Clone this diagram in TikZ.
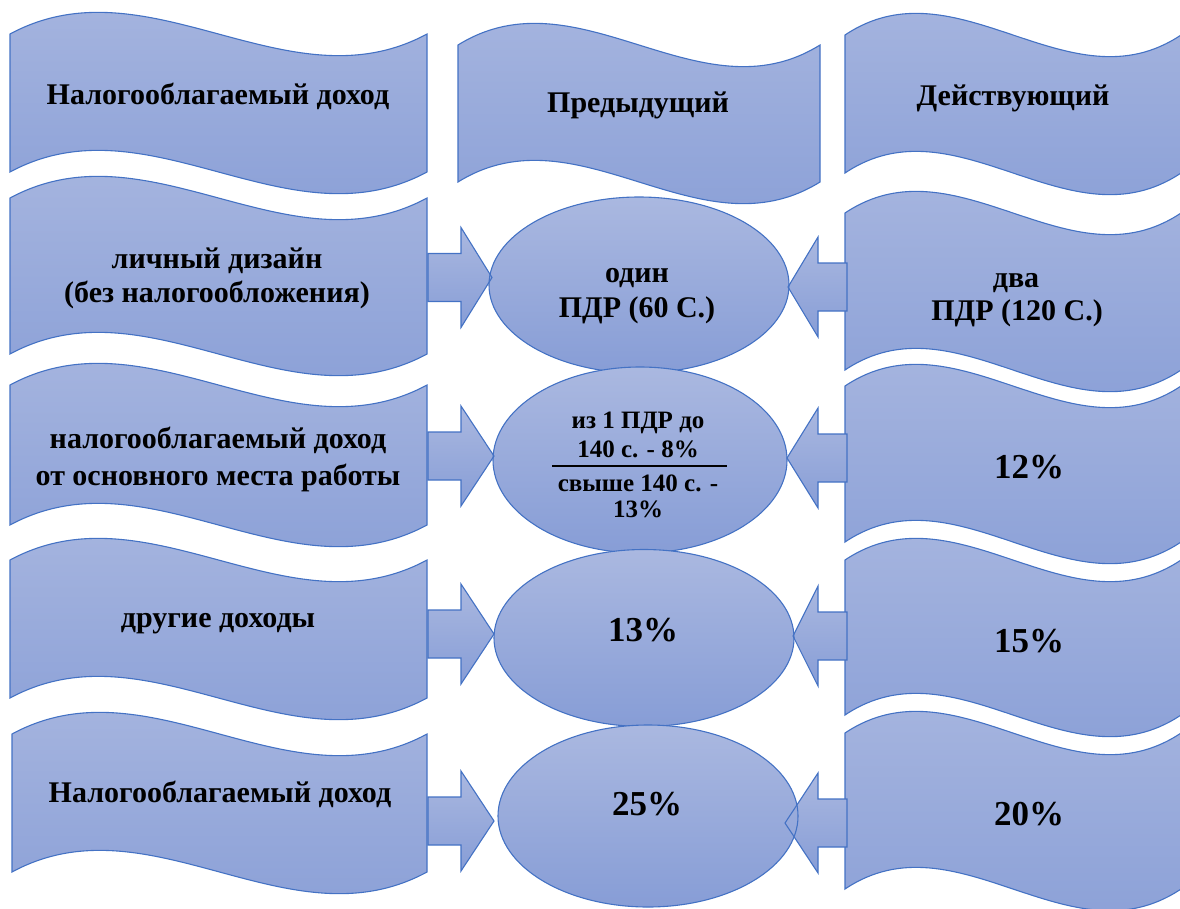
\documentclass[tikz,border=0pt]{standalone}
\usepackage{fontspec}
\setmainfont{Liberation Serif}
\usetikzlibrary{shapes.geometric}
\definecolor{edgeblue}{RGB}{68,114,196}
\definecolor{ftop}{RGB}{170,184,224}
\definecolor{fbot}{RGB}{135,157,214}
\tikzset{
  shapefill/.style={top color=ftop, bottom color=fbot, draw=edgeblue, line width=1.1pt},
  arrfill/.style={top color=ftop, bottom color=fbot},
  arrline/.style={draw=edgeblue, line width=1.1pt, line join=miter},
  lbl/.style={font=\bfseries\fontsize{30}{34}\selectfont, anchor=base, inner sep=0pt, text=black},
  small/.style={lbl, font=\bfseries\fontsize{25}{28}\selectfont},
  pct/.style={lbl, font=\bfseries\fontsize{35}{38}\selectfont},
  ellbox/.style={ellipse, shapefill, inner sep=0pt}
}
% wave: x0, x1, ytop, ybot
\newcommand{\wavebox}[4]{%
  \path[shapefill] (#1,#3) .. controls ({#1+(#2-#1)/3},#3-75) and ({#1+2*(#2-#1)/3},#3+75) .. (#2,#3)
    -- (#2,#4) .. controls ({#1+2*(#2-#1)/3},#4+75) and ({#1+(#2-#1)/3},#4-75) .. (#1,#4) -- cycle;}
% left arrow pointing right: yc, xtip, style
\newcommand{\larr}[3]{\path[#3] (428,#1-24) -- (461,#1-24) -- (461,#1-50) -- (#2,#1) -- (461,#1+50) -- (461,#1+24) -- (428,#1+24) -- cycle;}
% right arrow pointing left: yc, xtip, style
\newcommand{\rarr}[3]{\path[#3] (847,#1-24) -- (818,#1-24) -- (818,#1-50) -- (#2,#1) -- (818,#1+50) -- (818,#1+24) -- (847,#1+24) -- cycle;}
\begin{document}
\begin{tikzpicture}[x=1pt,y=-1pt]
\useasboundingbox (0,0) rectangle (1180,908);
\clip (0,0) rectangle (1180,908);
% left column
\wavebox{10}{427}{34}{172}
\wavebox{10}{427}{198}{354}
\wavebox{10}{427}{385}{525}
\wavebox{10}{427}{560}{698}
\wavebox{12}{427}{734}{872}
% middle header
\wavebox{458}{820}{45}{182}
% right column
\wavebox{845}{1181}{35}{173}
\wavebox{845}{1181}{213}{370}
\wavebox{845}{1181}{386}{542}
\wavebox{845}{1181}{560}{715}
\wavebox{845}{1181}{733}{889}
% arrow fills
\larr{277.5}{492}{arrfill}
\larr{456}{494}{arrfill}
\larr{634}{494}{arrfill}
\larr{821}{494}{arrfill}
\rarr{287}{788}{arrfill}
\rarr{458}{787}{arrfill}
\rarr{636}{793}{arrfill}
\rarr{823}{785}{arrfill}
% ellipses
\node[ellbox, minimum width=300pt, minimum height=176pt] (e1) at (639,285) {};
\node[ellbox, minimum width=294pt, minimum height=186pt] (e2) at (640,460) {};
\node[ellbox, minimum width=300pt, minimum height=177pt] (e3) at (644,638) {};
\node[ellbox, minimum width=300pt, minimum height=182pt] (e4) at (648,816) {};
% arrow outlines
\larr{277.5}{492}{arrline}
\larr{456}{494}{arrline}
\larr{634}{494}{arrline}
\larr{821}{494}{arrline}
\rarr{287}{788}{arrline}
\rarr{458}{787}{arrline}
\rarr{636}{793}{arrline}
\rarr{823}{785}{arrline}
% texts left
\node[lbl] (l1) at (218,104) {Налогооблагаемый доход};
\node[lbl] (l2a) at (217,268) {личный дизайн};
\node[lbl] (l2b) at (217,302) {(без налогообложения)};
\node[lbl] (l3a) at (218,448) {налогооблагаемый доход};
\node[lbl] (l3b) at (218,485) {от основного места работы};
\node[lbl] (l4) at (218,627) {другие доходы};
\node[lbl] (l5) at (220,802) {Налогооблагаемый доход};
% headers
\node[lbl] (mh) at (638,112) {Предыдущий};
\node[lbl] (rh) at (1013,105) {Действующий};
% ellipse texts
\node[lbl] (t1a) at (637,282) {один};
\node[lbl] (t1b) at (637,317) {ПДР (60 С.)};
\node[small] (t2a) at (638,428) {из 1 ПДР до};
\node[small] (t2b) at (638,457) {140 с. - 8\%};
\coordinate (r1) at (552,466);
\coordinate (r2) at (727,466);
\draw[line width=1.2pt] (r1) -- (r2);
\node[small] (t2c) at (638,491) {свыше 140 с. -};
\node[small] (t2d) at (638,517) {13\%};
\node[pct] (t3) at (643,641) {13\%};
\node[pct] (t4) at (647,815) {25\%};
% right texts
\node[lbl] (r2a) at (1016,287) {два};
\node[lbl] (r2b) at (1017,320) {ПДР (120 С.)};
\node[pct] (r3t) at (1029,478) {12\%};
\node[pct] (r4t) at (1029,652) {15\%};
\node[pct] (r5t) at (1029,825) {20\%};
\end{tikzpicture}
\end{document}
